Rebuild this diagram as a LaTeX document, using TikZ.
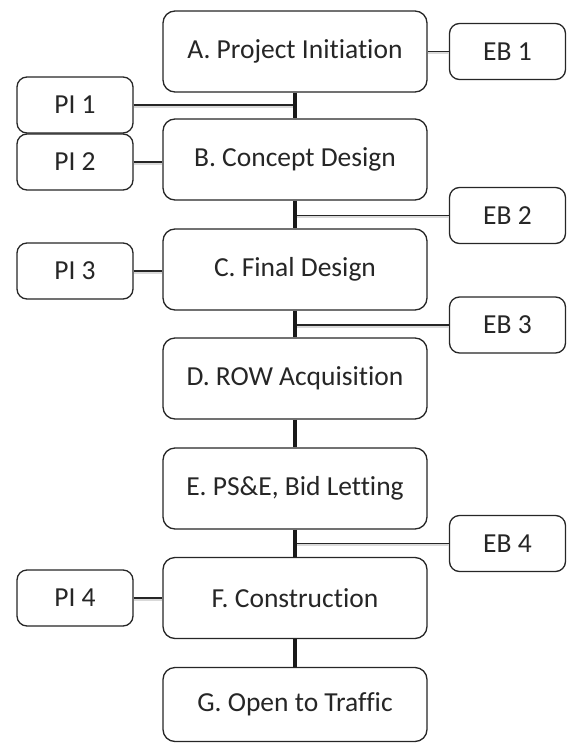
\documentclass[tikz,border=0pt]{standalone}
\usepackage{fontspec}
\setmainfont{Carlito}[Ligatures={CommonOff}]
\begin{document}
\begin{tikzpicture}[x=1pt,y=-1pt,
  stage/.style={draw=black!85, line width=1.3pt, rounded corners=12pt, fill=white,
    minimum width=264pt, minimum height=81pt, inner sep=0pt, text=black!85,
    font=\fontsize{27.5}{32}\selectfont},
  sidebox/.style={draw=black!85, line width=1.3pt, rounded corners=10pt, fill=white,
    minimum width=116pt, minimum height=56pt, inner sep=0pt, text=black!85,
    font=\fontsize{27.5}{32}\selectfont},
  spine/.style={draw=black!90, line width=3.2pt},
  branch/.style={draw=black!85, line width=1.8pt,
    preaction={draw=black!15, line width=3pt, transform canvas={yshift=-1.1pt}}}]
\useasboundingbox (0,0) rectangle (570,744);
\node[stage] (A) at (295,51.5) {A. Project Initiation};
\node[stage] (B) at (295,159.5) {B. Concept Design};
\node[stage] (C) at (295,269.5) {C. Final Design};
\node[stage] (D) at (295,378.5) {D. ROW Acquisition};
\node[stage] (E) at (295,488.5) {E. PS\&E, Bid Letting};
\node[stage] (F) at (295,598) {F. Construction};
\node[stage, minimum height=74pt] (G) at (295,704.5) {G. Open to Traffic};
\node[sidebox] (EB1) at (507.5,51.5) {EB 1};
\node[sidebox] (EB2) at (507.5,215.5) {EB 2};
\node[sidebox] (EB3) at (507.5,325) {EB 3};
\node[sidebox] (EB4) at (507.5,543.5) {EB 4};
\node[sidebox] (PI1) at (75,105) {PI 1};
\node[sidebox] (PI2) at (75,162) {PI 2};
\node[sidebox] (PI3) at (75,271) {PI 3};
\node[sidebox] (PI4) at (75,598) {PI 4};
\coordinate (j1) at (A.south |- PI1.east);
\coordinate (j2) at (B.south |- EB2.west);
\coordinate (j3) at (C.south |- EB3.west);
\coordinate (j4) at (E.south |- EB4.west);
\draw[branch] (A.east) -- (EB1.west);
\draw[branch] (PI1.east) -- (j1);
\draw[branch] (PI2.east) -- (PI2.east -| B.west);
\draw[branch] (j2) -- (EB2.west);
\draw[branch] (PI3.east) -- (PI3.east -| C.west);
\draw[branch] (j3) -- (EB3.west);
\draw[branch] (j4) -- (EB4.west);
\draw[branch] (PI4.east) -- (F.west);
\draw[spine] (A.south) -- (B.north);
\draw[spine] (B.south) -- (C.north);
\draw[spine] (C.south) -- (D.north);
\draw[spine] (D.south) -- (E.north);
\draw[spine] (E.south) -- (F.north);
\draw[spine] (F.south) -- (G.north);
\end{tikzpicture}
\end{document}
